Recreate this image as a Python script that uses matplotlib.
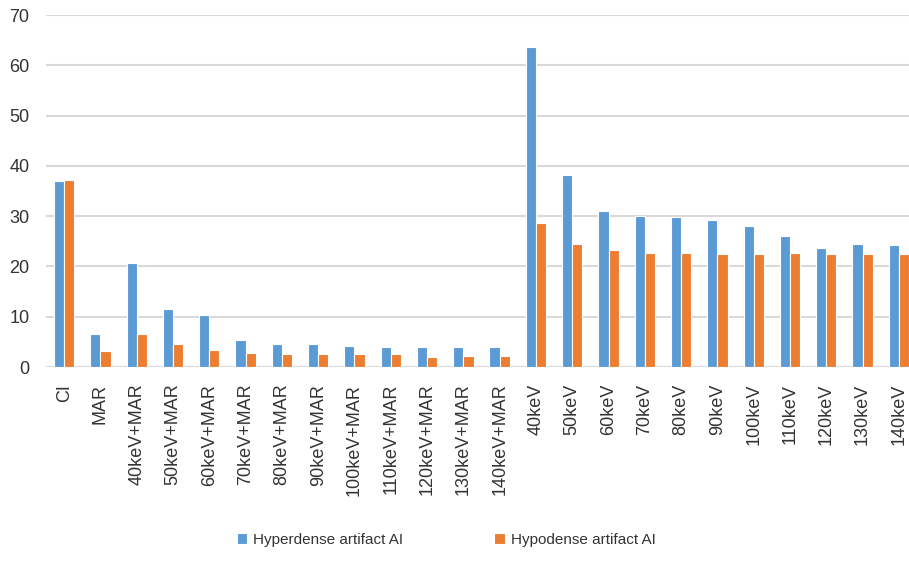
import matplotlib
matplotlib.use('Agg')
from matplotlib import pyplot as plt
import numpy as np

plt.rcParams['font.family'] = ['Liberation Sans', 'DejaVu Sans']

categories = ['CI', 'MAR', '40keV+MAR', '50keV+MAR', '60keV+MAR', '70keV+MAR',
              '80keV+MAR', '90keV+MAR', '100keV+MAR', '110keV+MAR', '120keV+MAR',
              '130keV+MAR', '140keV+MAR', '40keV', '50keV', '60keV', '70keV',
              '80keV', '90keV', '100keV', '110keV', '120keV', '130keV', '140keV']
hyperdense = [36.9, 6.6, 20.7, 11.5, 10.4, 5.4, 4.5, 4.5, 4.2, 3.9, 3.9, 3.9, 3.9,
              63.7, 38.1, 31.0, 30.1, 29.9, 29.3, 28.1, 26.0, 23.7, 24.5, 24.2]
hypodense = [37.2, 3.1, 6.6, 4.5, 3.3, 2.7, 2.5, 2.5, 2.5, 2.5, 1.9, 2.1, 2.1,
             28.7, 24.5, 23.3, 22.7, 22.7, 22.5, 22.5, 22.7, 22.5, 22.5, 22.5]
yticks = [0, 10, 20, 30, 40, 50, 60, 70]

fig = plt.figure(figsize=(9.09, 5.71), dpi=100)
ax = fig.add_axes([46 / 909, 204 / 571, 871 / 909, 352 / 571])

x = np.arange(len(categories))
w = 0.28
ax.bar(x - w / 2, hyperdense, w, color='#5B9BD5', edgecolor='white', linewidth=0.8,
       label='Hyperdense artifact AI', zorder=3)
ax.bar(x + w / 2, hypodense, w, color='#ED7D31', edgecolor='white', linewidth=0.8,
       label='Hypodense artifact AI', zorder=3)

ax.set_xlim(-0.5, len(categories) - 0.5)
ax.set_ylim(0, 70)
ax.set_yticks(yticks)
ax.yaxis.grid(True, color='#d9d9d9', linewidth=1.5, zorder=0)
for s in ax.spines.values():
    s.set_visible(False)
ax.axhline(0, color='#d9d9d9', linewidth=1.5, zorder=2)
ax.tick_params(length=0, labelsize=13, colors='#333333')
ax.tick_params(axis='y', pad=12)
ax.tick_params(axis='x', pad=12)
ax.set_xticks(x)
ax.set_xticklabels(categories, rotation=90, va='top', ha='center')

fig.legend(loc='center', bbox_to_anchor=(446 / 909, 1 - 540 / 571), ncol=2,
           frameon=False, fontsize=11, handlelength=0.7, handleheight=0.7,
           handletextpad=0.35, columnspacing=6.0, labelcolor='#333333')

fig.savefig('out.png', dpi=100)
